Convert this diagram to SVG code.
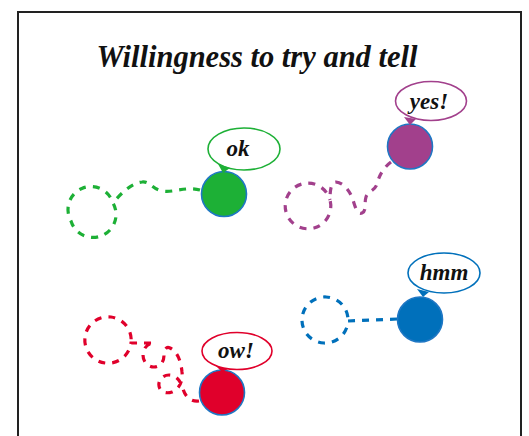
<svg xmlns="http://www.w3.org/2000/svg" width="529" height="436" viewBox="0 0 529 436">
<style>
.title{font-family:"Liberation Serif",serif;font-style:italic;font-weight:bold;font-size:30.5px;fill:#111;text-anchor:middle}
.lbl{font-family:"Liberation Serif",serif;font-style:italic;font-weight:bold;font-size:23px;fill:#111;text-anchor:middle}
.trail{fill:none;stroke-width:3.2;stroke-dasharray:7 7}
.bubble{fill:#fff;stroke-width:1.6}
.node{stroke:#1f77c4;stroke-width:1.6}
</style>
<rect x="0" y="0" width="529" height="436" fill="#fff"/>
<rect x="18" y="12" width="503" height="440" fill="none" stroke="#222" stroke-width="2"/>
<text class="title" x="257" y="67">Willingness to try and tell</text>
<g id="connectors">
<path class="trail" stroke="#1db036" d="M 200,190 C 186,186 174,193 162,191 C 152,189 150,181 142,182 C 132,183 121,193 113,203 A 23 23 0 1 1 71,221 A 23 23 0 1 1 113,203"/>
<path class="trail" stroke="#a2408c" d="M 391,162 C 383,168 379,176 377,184 C 375,191 368,191 366,197 C 364,203 367,211 362,213 C 357,215 355,206 353,200 C 350,191 344,183 336,182 C 331,182 330,190 330,200 A 22.8 22.8 0 1 1 286,212 A 22.8 22.8 0 1 1 330,200"/>
<path class="trail" stroke="#e0002b" d="M 199,401 C 190,402 185,396 183,389 C 181,381 176,375 169,375 C 162,375 158,381 159,386 C 160,392 166,394 172,392 C 180,389 183,380 182,372 C 181,362 178,352 170,348 C 166,346 164,350 164,355 C 164,362 160,367 154,367 C 148,367 143,362 143,355 C 143,348 148,343 154,343 L 131,343 A 23 23 0 1 1 85,337 A 23 23 0 1 1 131,343"/>
<path class="trail" stroke="#0070bb" d="M 397,319 L 348,321 A 23 23 0 1 1 302,319 A 23 23 0 1 1 348,321"/>
</g>
<g id="node-ok">
<circle class="node" cx="224" cy="194" r="22.5" fill="#1db036"/>
<ellipse class="bubble" cx="244" cy="149" rx="36" ry="21" stroke="#1db036"/>
<path d="M 218,164 L 230,168 L 223,173 Z" fill="#1db036"/>
<text class="lbl" x="238" y="156">ok</text>
</g>
<g id="node-yes">
<circle class="node" cx="410" cy="146.5" r="22.5" fill="#a2408c"/>
<ellipse class="bubble" cx="431" cy="101" rx="35.5" ry="19.5" stroke="#a2408c"/>
<path d="M 404,117 L 416,119 L 410,125 Z" fill="#a2408c"/>
<text class="lbl" x="429" y="109">yes!</text>
</g>
<g id="node-ow">
<circle class="node" cx="222" cy="392.5" r="22.5" fill="#e0002b"/>
<ellipse class="bubble" cx="237" cy="351" rx="35" ry="18.5" stroke="#e0002b"/>
<path d="M 216,366 L 228,369 L 222,372 Z" fill="#e0002b"/>
<text class="lbl" x="236" y="358">ow!</text>
</g>
<g id="node-hmm">
<circle class="node" cx="420" cy="319.5" r="22.5" fill="#0070bb"/>
<ellipse class="bubble" cx="444" cy="273" rx="36" ry="20" stroke="#0070bb"/>
<path d="M 417,289 L 429,292 L 423,297 Z" fill="#0070bb"/>
<text class="lbl" x="444" y="280">hmm</text>
</g>
</svg>
